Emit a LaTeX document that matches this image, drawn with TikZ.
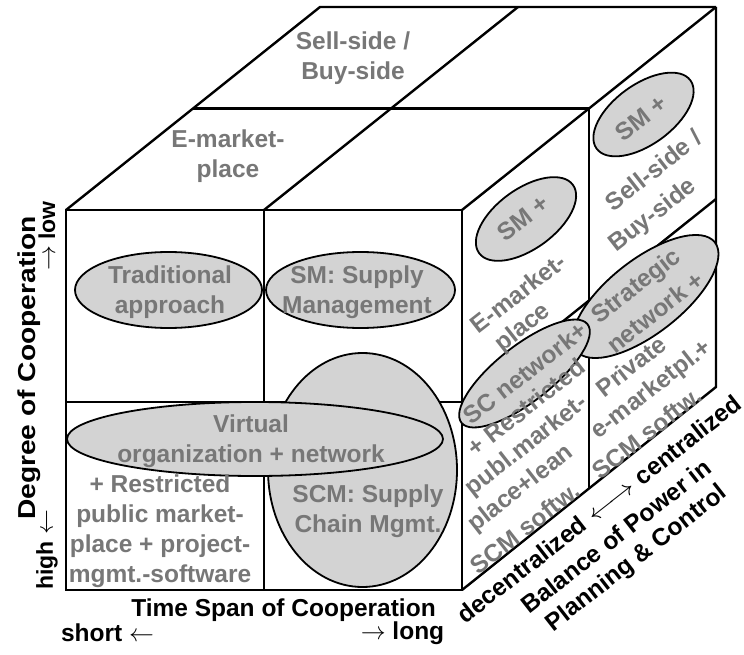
\documentclass[tikz,border=0pt]{standalone}
\usepackage{fontspec}
\setmainfont{Liberation Sans}
\usepackage{graphicx}
\usepackage{tikz}
\usetikzlibrary{arrows.meta}
\definecolor{blobfill}{RGB}{211, 211, 211}
\definecolor{labelgray}{RGB}{119, 119, 119}
\newcommand{\bigbf}{\fontsize{24.5}{30}\selectfont\bfseries}
\newcommand{\smallbf}{\fontsize{23}{27}\selectfont\bfseries}

\begin{document}
\begin{tikzpicture}[x=1pt, y=-1pt, >=Stealth,
    edge/.style={line width=2.4pt, line join=miter},
    blob/.style={draw=black, line width=1.8pt, fill=blobfill},
    gtxt/.style={text=labelgray, font=\bigbf, align=center, inner sep=0pt},
    side/.style={gtxt, rotate=38},
    axis/.style={text=black, font=\bigbf, align=center, inner sep=0pt}]
  \useasboundingbox (0,0) rectangle (744,655);
  % ── Front face ──
  \draw[edge] (66,210) rectangle (462,590);
  \draw[edge] (264,210) -- (264,590);
  \draw[edge] (66,402) -- (462,402);
  % ── Top face ──
  \draw[edge] (66,210) -- (320,7) -- (716,7);
  \draw[edge] (193,108.5) -- (589,108.5);
  \draw[edge] (264,210) -- (518,7);
  \draw[edge] (462,210) -- (716,7);
  % ── Right face ──
  \draw[edge] (589,108.5) -- (589,488.5);
  \draw[edge] (716,7) -- (716,387) -- (462,590);
  \draw[edge] (462,402) -- (716,199);
  % ── Front ellipses ──
  \draw[blob] (168.5,290) ellipse (93.5pt and 38pt);
  \draw[blob] (360.5,290) ellipse (94.5pt and 38pt);
  \draw[blob] (362.5,470) ellipse (94.5pt and 117pt);
  \draw[blob] (255,439) ellipse (188pt and 37pt);
  % ── Side ellipses ──
  \draw[blob, rotate around={36:(526,219)}] (526,219) ellipse (58pt and 30pt);
  \draw[blob, rotate around={36:(643.5,114.5)}] (643.5,114.5)
    ellipse (58pt and 30pt);
  \draw[blob, rotate around={38:(645.5,296.5)}] (645.5,296.5)
    ellipse (88pt and 37pt);
  \draw[blob, rotate around={38:(524.5,373.5)}] (524.5,373.5)
    ellipse (80pt and 28pt);
  % ── Top face labels ──
  \node[gtxt] (sellbuy) at (353,58) {Sell-side /\\Buy-side};
  \node[gtxt] (emarket) at (228,156) {E-market-\\place};
  % ── Front face labels ──
  \node[gtxt] (trad) at (170,292) {Traditional\\approach};
  \node[gtxt] (sm) at (357,292) {SM: Supply\\Management};
  \node[gtxt] (virtual) at (251,441) {Virtual\\organization + network};
  \node[gtxt] (restricted) at (160,531)
    {+ Restricted\\public market-\\place + project-\\mgmt.-software};
  \node[gtxt] (scm) at (368,511) {SCM: Supply\\Chain Mgmt.};
  % ── Right face labels ──
  \node[side] (smfront) at (523,218) {SM +};
  \node[side] (emkt1) at (518,293) {E-market-};
  \node[side] (emkt2) at (523,328) {place};
  \node[side] (scnet) at (525,373) {SC network+};
  \node[side] (restr1) at (526,407) {+ Restricted};
  \node[side] (restr2) at (527,446) {publ.market-};
  \node[side] (restr3) at (521,489) {place+lean};
  \node[side] (restr4) at (525,528) {SCM softw.};
  \node[side] (smback) at (641,118) {SM +};
  \node[side] (sell) at (653,170) {Sell-side /};
  \node[side] (buy) at (653,216) {Buy-side};
  \node[side] (strat1) at (637,287) {Strategic};
  \node[side] (strat2) at (655,312) {network +};
  \node[side] (priv1) at (631,366) {Private};
  \node[side] (priv2) at (652,390) {e-marketpl.+};
  \node[side] (priv3) at (647,433) {SCM softw.};
  % ── Axis labels ──
  \node[axis, rotate=90] (degree) at (29,368)
    {\scalebox{1.15}[1]{Degree of Cooperation}};
  \node[axis, rotate=90, font=\smallbf] (low) at (47,236) {$\rightarrow$ low};
  \node[axis, rotate=90, font=\smallbf] (high) at (47,550) {high $\leftarrow$};
  \node[axis] (timespan) at (283.5,610.5) {Time Span of Cooperation};
  \node[axis] (short) at (107.5,633) {short $\leftarrow$};
  \node[axis] (long) at (402.5,633) {$\rightarrow$ long};
  \node[axis, rotate=38] (power) at (599,509)
    {decentralized \scalebox{1.2}[1]{$\longleftrightarrow$} centralized};
  \node[axis, rotate=38] (balance) at (616,536) {Balance of Power in};
  \node[axis, rotate=38] (planning) at (637,559) {Planning \& Control};
\end{tikzpicture}
\end{document}
